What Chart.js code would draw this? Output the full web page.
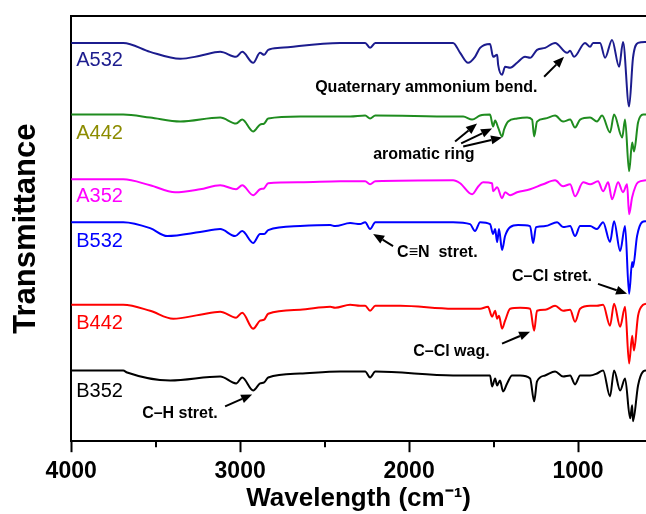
<!DOCTYPE html>
<html>
<head>
<meta charset="utf-8">
<script src="https://cdn.jsdelivr.net/npm/chart.js@4.4.1/dist/chart.umd.min.js"></script>
<style>
  html, body { margin: 0; padding: 0; background: #fff; }
  #wrap { width: 646px; height: 514px; }
</style>
</head>
<body>
<div id="wrap"><canvas id="c" width="646" height="514"></canvas></div>
<script>
// ---------- DATA (wavenumber cm^-1, offset transmittance a.u.) ----------
const seriesNames = ['A532', 'A442', 'A352', 'B532', 'B442', 'B352'];

const A532 = [[4000,400],[3692,400],[3533,391],[3355,384],[3237,387],[3118,391],[3024,386],[2988,391],[2923,380],[2882,390],[2858,388],[2834,393],[2763,395],[2408,400],[2260,400],[2231,395],[2200,400],[1740,400],[1698,390],[1651,380],[1610,386],[1580,395],[1521,399],[1503,386],[1479,388],[1473,378],[1450,368],[1432,376],[1402,375],[1361,380],[1314,386],[1284,385],[1243,393],[1195,395],[1136,400],[1065,390],[1047,392],[1024,386],[959,400],[929,396],[911,400],[870,400],[840,385],[799,403],[757,376],[734,401],[698,336],[675,385],[645,400],[598,401]];

const A442 = [[4000,328],[3692,328],[3533,325],[3355,321],[3118,325],[3024,319],[2988,323],[2923,311],[2882,318],[2858,319],[2834,324],[2645,326],[2349,326],[2260,327],[2231,324],[2200,327],[1740,326],[1680,326],[1627,323],[1580,327],[1521,328],[1503,316],[1491,322],[1473,315],[1450,306],[1438,313],[1414,321],[1361,324],[1302,325],[1272,323],[1260,306],[1243,321],[1195,324],[1136,327],[1089,321],[1047,323],[1018,315],[988,323],[929,325],[888,321],[858,327],[811,310],[787,328],[739,305],[722,323],[698,271],[680,300],[669,291],[645,320],[615,328],[598,328]];

const A352 = [[4000,263],[3692,263],[3533,257],[3385,250],[3237,253],[3118,257],[3024,253],[2988,257],[2923,247],[2882,253],[2858,254],[2834,259],[2645,260],[2408,261],[2260,261],[2231,258],[2200,261],[1740,262],[1698,259],[1627,248],[1590,256],[1562,260],[1509,259],[1503,251],[1479,255],[1450,244],[1432,250],[1402,247],[1361,250],[1284,253],[1207,258],[1136,262],[1089,256],[1047,258],[1018,246],[970,260],[929,258],[882,261],[852,251],[822,260],[799,243],[763,260],[734,250],[710,258],[698,228],[680,245],[645,260],[598,262]];

const B532 = [[4000,220],[3692,220],[3533,214],[3432,206],[3237,210],[3118,213],[3030,206],[2988,211],[2923,199],[2882,208],[2858,208],[2834,212],[2645,216],[2467,217],[2438,216],[2349,219],[2290,218],[2260,220],[2231,213],[2200,220],[1740,220],[1639,218],[1610,211],[1580,220],[1521,218],[1503,208],[1491,213],[1479,200],[1468,213],[1450,192],[1432,206],[1402,215],[1355,217],[1284,216],[1266,199],[1249,215],[1195,216],[1124,220],[1089,215],[1047,216],[1018,206],[988,216],[929,216],[888,213],[852,220],[811,200],[787,221],[751,191],[722,216],[698,148],[680,180],[675,175],[651,206],[621,220],[598,221]];

const B442 = [[4000,137],[3692,137],[3533,131],[3396,123],[3237,127],[3118,130],[3024,124],[2988,129],[2923,113],[2882,121],[2858,122],[2834,128],[2645,132],[2467,135],[2438,134],[2349,137],[2290,136],[2260,136],[2231,131],[2200,136],[2053,136],[1740,133],[1580,133],[1533,135],[1509,125],[1491,131],[1479,123],[1468,126],[1450,113],[1432,121],[1402,133],[1343,134],[1284,133],[1260,111],[1243,131],[1195,132],[1136,136],[1089,131],[1047,132],[1018,120],[988,133],[929,136],[888,136],[852,137],[811,116],[787,138],[751,115],[722,135],[698,78],[680,106],[669,91],[645,126],[615,137],[598,138]];

const B352 = [[4000,71],[3692,71],[3669,69],[3414,61],[3118,65],[3024,58],[2988,64],[2923,51],[2882,58],[2858,59],[2834,64],[2645,68],[2408,70],[2260,70],[2231,64],[2200,70],[1740,66],[1521,66],[1509,55],[1491,63],[1479,56],[1462,61],[1444,50],[1420,58],[1391,66],[1343,66],[1284,63],[1260,40],[1243,60],[1195,66],[1136,70],[1089,65],[1047,66],[1018,57],[988,66],[929,66],[888,68],[852,71],[811,45],[787,71],[751,51],[722,63],[692,23],[680,36],[675,20],[645,56],[615,70],[598,71]];

const xMajorTicks = [4000, 3000, 2000, 1000];
const xMinorTicks = [3500, 2500, 1500];

// ---------- STYLE ----------
const FONT = '"Liberation Sans", Arial, Helvetica, sans-serif';
const lineColors  = ['#1c1c8e', '#1f8c1f', '#ff00ff', '#0000ff', '#ff0000', '#000000'];
const labelColors = ['#1c1c8e', '#8c8c00', '#ff00ff', '#0000ff', '#ff0000', '#000000'];
const seriesData = [A532, A442, A352, B532, B442, B352];

// label anchor positions (data coords)
const labelPos = [[3970,382],[3970,309],[3970,246],[3970,201],[3970,118],[3970,50]];

// annotation notes (data coords): text anchor + arrows [from, to]
const notes = [
  { text: 'Quaternary ammonium bend.', at: [2556, 355], arrows: [[[1201,366],[1083,386]]] },
  { text: 'aromatic ring', at: [2213, 288], arrows: [[[1728,301],[1598,319]], [[1692,299],[1509,314]], [[1680,296],[1450,305]]] },
  { text: 'C\u2261N  stret.', at: [2071, 189], arrows: [[[2095,196],[2213,208]]] },
  { text: 'C\u2013Cl stret.', at: [1391, 165], arrows: [[[882,158],[710,148]]] },
  { text: 'C\u2013Cl wag.', at: [1976, 90], arrows: [[[1450,98],[1284,110]]] },
  { text: 'C\u2013H stret.', at: [3580, 28], arrows: [[[3089,35],[2929,47]]] }
];

function drawArrow(ctx, x1, y1, x2, y2) {
  const ang = Math.atan2(y2 - y1, x2 - x1);
  const hl = 11, hw = 4.5;
  const bx = x2 - hl * Math.cos(ang), by = y2 - hl * Math.sin(ang);
  ctx.beginPath();
  ctx.moveTo(x1, y1);
  ctx.lineTo(bx, by);
  ctx.stroke();
  ctx.beginPath();
  ctx.moveTo(x2, y2);
  ctx.lineTo(bx + hw * Math.sin(ang), by - hw * Math.cos(ang));
  ctx.lineTo(bx - hw * Math.sin(ang), by + hw * Math.cos(ang));
  ctx.closePath();
  ctx.fill();
}

const annotPlugin = {
  id: 'annot',
  afterDatasetsDraw(chart) {
    const { ctx, chartArea: a, scales: { x, y } } = chart;
    ctx.save();
    // top frame
    ctx.strokeStyle = '#000';
    ctx.lineWidth = 2;
    ctx.beginPath();
    ctx.moveTo(a.left - 1, a.top);
    ctx.lineTo(a.right, a.top);
    ctx.stroke();
    // minor ticks
    xMinorTicks.forEach(v => {
      const px = Math.round(x.getPixelForValue(v));
      ctx.beginPath();
      ctx.moveTo(px, a.bottom);
      ctx.lineTo(px, a.bottom + 6);
      ctx.stroke();
    });
    // series labels
    ctx.font = '20px ' + FONT;
    ctx.textBaseline = 'middle';
    ctx.textAlign = 'left';
    seriesNames.forEach((n, i) => {
      ctx.fillStyle = labelColors[i];
      ctx.fillText(n, x.getPixelForValue(labelPos[i][0]), y.getPixelForValue(labelPos[i][1]));
    });
    // notes
    ctx.font = 'bold 16px ' + FONT;
    ctx.fillStyle = '#000';
    ctx.strokeStyle = '#000';
    ctx.lineWidth = 2;
    notes.forEach(nt => {
      ctx.fillText(nt.text, x.getPixelForValue(nt.at[0]), y.getPixelForValue(nt.at[1]));
      nt.arrows.forEach(ar => {
        drawArrow(ctx,
          x.getPixelForValue(ar[0][0]), y.getPixelForValue(ar[0][1]),
          x.getPixelForValue(ar[1][0]), y.getPixelForValue(ar[1][1]));
      });
    });
    ctx.restore();
  }
};

new Chart(document.getElementById('c'), {
  type: 'line',
  data: {
    datasets: seriesData.map((d, i) => ({
      label: seriesNames[i],
      data: d,
      borderColor: lineColors[i],
      borderWidth: 2,
      pointRadius: 0,
      cubicInterpolationMode: 'monotone',
      fill: false
    }))
  },
  options: {
    responsive: false,
    devicePixelRatio: 1,
    animation: false,
    layout: { padding: { left: 8, top: 16, right: 0, bottom: 0 } },
    plugins: { legend: { display: false }, tooltip: { enabled: false } },
    scales: {
      x: {
        type: 'linear',
        reverse: true,
        min: 598,
        max: 4000,
        afterBuildTicks: s => { s.ticks = xMajorTicks.map(v => ({ value: v })); },
        ticks: {
          autoSkip: false, maxRotation: 0, padding: 6,
          color: '#000',
          font: { family: FONT, size: 23, weight: 'bold' },
          callback: v => String(v)
        },
        grid: { display: true, drawOnChartArea: false, drawTicks: true, tickLength: 11, tickWidth: 2, tickColor: '#000' },
        border: { display: true, color: '#000', width: 2 },
        title: {
          display: true, text: 'Wavelength (cm\u207B\u00B9)', color: '#000',
          font: { family: FONT, size: 26, weight: 'bold' },
          padding: { top: -9, bottom: 0 }
        }
      },
      y: {
        min: 0,
        max: 427,
        ticks: { display: false },
        grid: { display: false, drawTicks: false },
        border: { display: true, color: '#000', width: 2 },
        title: {
          display: true, text: 'Transmittance', color: '#000',
          font: { family: FONT, size: 31, weight: 'bold' },
          padding: { top: 0, bottom: 26 }
        }
      }
    }
  },
  plugins: [annotPlugin]
});
</script>
</body>
</html>
